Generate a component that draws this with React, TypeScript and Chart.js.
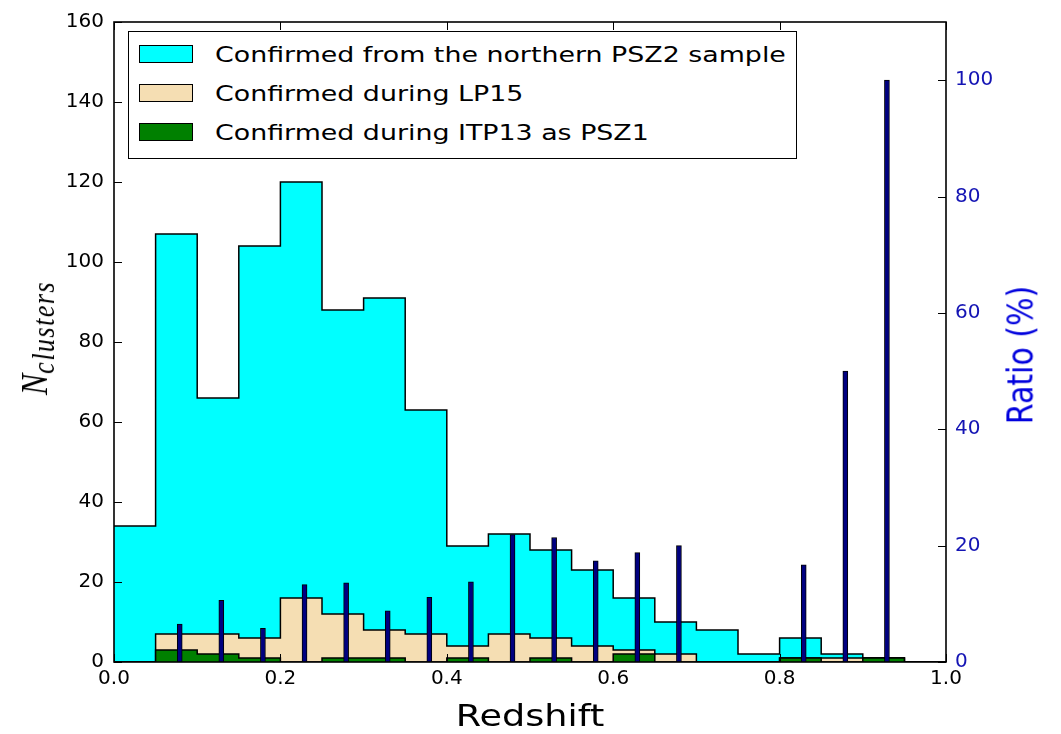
import React, { useEffect, useRef } from 'react';
import { Chart, registerables } from 'chart.js';

Chart.register(...registerables);

// Histogram bin edges (redshift)
const binEdges = [0.0, 0.05, 0.1, 0.15, 0.2, 0.25, 0.3, 0.35, 0.4, 0.45, 0.5, 0.55, 0.6, 0.65, 0.7, 0.75, 0.8, 0.85, 0.9, 0.95, 1.0];
// Counts per bin
const psz2Counts = [34, 107, 66, 104, 120, 88, 91, 63, 29, 32, 28, 23, 16, 10, 8, 2, 6, 2, 1, 0];
const lp15Counts = [0, 7, 7, 6, 16, 12, 8, 7, 4, 7, 6, 4, 3, 2, 0, 0, 1, 1, 1, 0];
const itp13Counts = [0, 3, 2, 1, 0, 1, 1, 0, 1, 0, 1, 0, 2, 0, 0, 0, 1, 0, 1, 0];
// Ratio bars (percent), positions
const ratioRedshift = [0.079, 0.129, 0.179, 0.229, 0.279, 0.329, 0.379, 0.429, 0.479, 0.529, 0.579, 0.629, 0.679, 0.829, 0.879, 0.929];
const ratioPercent = [6.5, 10.6, 5.8, 13.3, 13.6, 8.8, 11.1, 13.8, 21.9, 21.4, 17.4, 18.8, 20.0, 16.7, 50.0, 100.0];

const legendLabels = [
  'Confirmed from the northern PSZ2 sample',
  'Confirmed during LP15',
  'Confirmed during ITP13 as PSZ1',
];
const legendColors = ['#00ffff', '#f5deb3', '#008000'];

const stepData = (counts: number[]) =>
  binEdges.map((x, i) => ({ x, y: i < counts.length ? counts[i] : 0 }));

const frameTicks = {
  id: 'frameTicks',
  afterDatasetsDraw(chart: any) {
    const { ctx, chartArea: a, scales } = chart;
    ctx.save();
    ctx.strokeStyle = '#000';
    ctx.lineWidth = 1;
    const L = 8;
    ctx.beginPath();
    scales.x.ticks.forEach((t: any) => {
      const px = Math.round(scales.x.getPixelForValue(t.value)) + 0.5;
      ctx.moveTo(px, a.bottom);
      ctx.lineTo(px, a.bottom - L);
      ctx.moveTo(px, a.top);
      ctx.lineTo(px, a.top + L);
    });
    scales.y.ticks.forEach((t: any) => {
      const py = Math.round(scales.y.getPixelForValue(t.value)) + 0.5;
      ctx.moveTo(a.left, py);
      ctx.lineTo(a.left + L, py);
    });
    scales.y1.ticks.forEach((t: any) => {
      const py = Math.round(scales.y1.getPixelForValue(t.value)) + 0.5;
      ctx.moveTo(a.right, py);
      ctx.lineTo(a.right - L, py);
    });
    ctx.stroke();
    ctx.lineWidth = 1.6;
    ctx.strokeRect(a.left, a.top, a.right - a.left, a.bottom - a.top);
    ctx.restore();
  },
};

const tickFont = { family: 'DejaVu Sans', size: 20 };

export default function App() {
  const canvasRef = useRef<HTMLCanvasElement | null>(null);

  useEffect(() => {
    const canvas = canvasRef.current;
    if (!canvas) return;
    const chart = new Chart(canvas, {
      type: 'line',
      data: {
        datasets: [
          {
            type: 'bar',
            label: 'Ratio',
            data: ratioRedshift.map((x, i) => ({ x, y: ratioPercent[i] })),
            yAxisID: 'y1',
            xAxisID: 'x',
            backgroundColor: '#000080',
            borderColor: '#000000',
            borderWidth: 1,
            barThickness: 5,
            order: 0,
          } as any,
          {
            label: legendLabels[2],
            data: stepData(itp13Counts),
            yAxisID: 'y',
            stepped: 'before',
            fill: 'origin',
            backgroundColor: legendColors[2],
            borderColor: '#000',
            borderWidth: 1.5,
            pointRadius: 0,
            order: 1,
          },
          {
            label: legendLabels[1],
            data: stepData(lp15Counts),
            yAxisID: 'y',
            stepped: 'before',
            fill: 'origin',
            backgroundColor: legendColors[1],
            borderColor: '#000',
            borderWidth: 1.5,
            pointRadius: 0,
            order: 2,
          },
          {
            label: legendLabels[0],
            data: stepData(psz2Counts),
            yAxisID: 'y',
            stepped: 'before',
            fill: 'origin',
            backgroundColor: legendColors[0],
            borderColor: '#000',
            borderWidth: 1.5,
            pointRadius: 0,
            order: 3,
          },
        ],
      },
      options: {
        responsive: false,
        animation: false,
        layout: { padding: { top: 18, left: 0, right: 0, bottom: 0 } },
        plugins: { legend: { display: false }, tooltip: { enabled: false } },
        scales: {
          x: {
            type: 'linear',
            min: 0,
            max: 1,
            offset: false,
            grid: { display: false, drawTicks: false },
            border: { display: false },
            ticks: {
              stepSize: 0.2,
              padding: 5,
              color: '#000',
              font: tickFont,
              maxRotation: 0,
              callback: (v: any) => Number(v).toFixed(1),
            },
            afterFit: (s: any) => { s.height = 72; },
          },
          y: {
            type: 'linear',
            position: 'left',
            min: 0,
            max: 160,
            grid: { display: false, drawTicks: false },
            border: { display: false },
            ticks: { stepSize: 20, padding: 10, color: '#000', font: tickFont },
            afterFit: (s: any) => { s.width = 114; },
          },
          y1: {
            type: 'linear',
            position: 'right',
            min: 0,
            max: 110,
            grid: { display: false, drawTicks: false },
            border: { display: false },
            ticks: { stepSize: 20, includeBounds: false, padding: 9, color: '#1414b4', font: tickFont },
            afterFit: (s: any) => { s.width = 115; },
          },
        },
      } as any,
      plugins: [frameTicks],
    });
    return () => chart.destroy();
  }, []);

  return (
    <div style={{ position: 'absolute', left: 0, top: 0, width: 1061, height: 734, background: '#fff', overflow: 'hidden' }}>
      <canvas ref={canvasRef} width={1061} height={734} style={{ display: 'block', width: 1061, height: 734 }} />
      {/* Legend */}
      <div
        style={{
          position: 'absolute', left: 128, top: 31, width: 669, height: 128,
          boxSizing: 'border-box', border: '1.5px solid #000', background: '#fff',
        }}
      >
        {legendLabels.map((lab, i) => (
          <React.Fragment key={lab}>
            <div
              style={{
                position: 'absolute', left: 10, top: 13 + i * 39, width: 54, height: 18,
                boxSizing: 'border-box', border: '1.5px solid #000', background: legendColors[i],
              }}
            />
            <div
              style={{
                position: 'absolute', left: 85.5, top: 7.5 + i * 39, height: 30, lineHeight: '30px',
                fontFamily: 'DejaVu Sans', fontSize: 22, color: '#000', whiteSpace: 'nowrap',
                transform: 'scaleX(1.22)', transformOrigin: 'left center',
              }}
            >
              {lab}
            </div>
          </React.Fragment>
        ))}
      </div>
      {/* X axis title */}
      <div
        style={{
          position: 'absolute', left: 530, top: 716, whiteSpace: 'nowrap',
          fontFamily: 'DejaVu Sans', fontSize: 30, lineHeight: '30px', color: '#000',
          transform: 'translate(-50%, -50%) scaleX(1.22)',
        }}
      >
        Redshift
      </div>
      {/* Left Y title */}
      <div
        style={{
          position: 'absolute', left: 34, top: 338, whiteSpace: 'nowrap', height: 40, lineHeight: '40px',
          fontFamily: 'Liberation Serif', fontStyle: 'italic', fontSize: 32, color: '#000',
          transform: 'translate(-50%, -50%) rotate(-90deg) scale(1, 1.2)',
        }}
      >
        <span>N</span>
        <span style={{ fontSize: 26, letterSpacing: 1.5, verticalAlign: -6 }}>clusters</span>
      </div>
      {/* Right Y title */}
      <div
        style={{
          position: 'absolute', left: 1020, top: 355, whiteSpace: 'nowrap',
          fontFamily: 'DejaVu Sans', fontSize: 30, lineHeight: '30px', color: '#0000dd',
          transform: 'translate(-50%, -50%) rotate(-90deg) scale(1, 1.2)',
        }}
      >
        Ratio (%)
      </div>
    </div>
  );
}
